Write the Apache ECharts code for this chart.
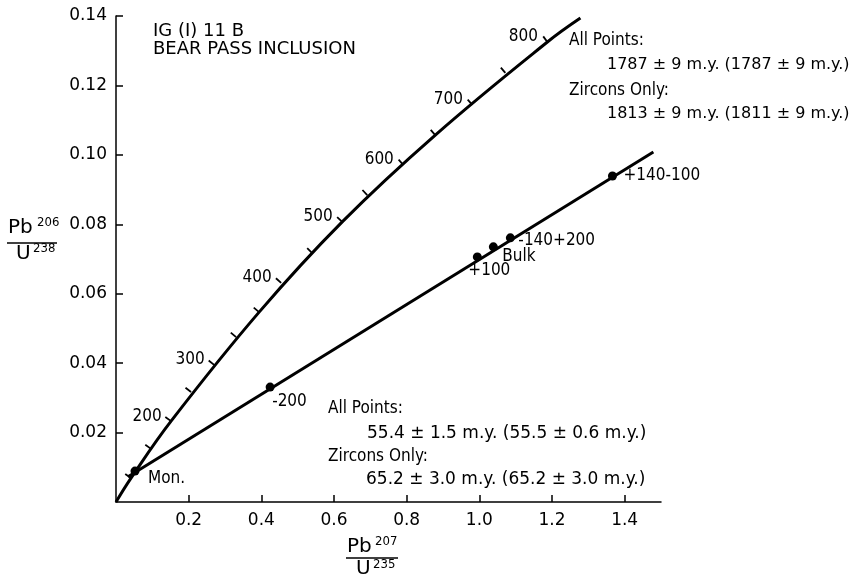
<!DOCTYPE html>
<html>
<head>
<meta charset="utf-8">
<script src="https://cdn.jsdelivr.net/npm/echarts@6/dist/echarts.min.js"></script>
<style>
html,body{margin:0;padding:0;background:#fff}
#chart{width:857px;height:583px}
</style>
</head>
<body>
<div id="chart"></div>
<script>
// concordia curve
const concordiaX = [0, 0.0413, 0.1515, 0.3939, 0.6226, 0.8788, 1.1873, 1.2782]
const concordiaY = [0, 0.0069, 0.0233, 0.0547, 0.0807, 0.1057, 0.1325, 0.1394]

// the 50 m.y. tick marks along the concordia
const tickX = [0.0413, 0.0964, 0.1515, 0.2066, 0.2700, 0.3306, 0.3939, 0.4545, 0.5399, 0.6226, 0.6915, 0.7906, 0.8788, 0.9807, 1.0716, 1.1873]
const tickY = [0.0069, 0.0153, 0.0233, 0.0317, 0.0395, 0.0475, 0.0547, 0.0631, 0.0717, 0.0807, 0.0884, 0.0971, 0.1057, 0.1144, 0.1236, 0.1325]
// age labels (m.y.) and the tick each one sits beside
const ageLabels = ['200', '300', '400', '500', '600', '700', '800']
const ageTickIndex = [2, 4, 7, 9, 11, 13, 15]

// discordia end points
const discordiaX = [0.033, 1.479]
const discordiaY = [0.0073, 0.1008]

// measured fractions
const sampleNames = ['Mon.', '-200', '+100', 'Bulk', '-140+200', '+140-100']
const sampleX = [0.0523, 0.4242, 0.9945, 1.0386, 1.0854, 1.3664]
const sampleY = [0.0089, 0.0331, 0.0706, 0.0735, 0.0761, 0.0939]

const xTicks = [0.2, 0.4, 0.6, 0.8, 1.0, 1.2, 1.4]
const yTicks = [0.02, 0.04, 0.06, 0.08, 0.10, 0.12, 0.14]

const FONT = "'DejaVu Sans', sans-serif"
const NARROW = "'DejaVu Sans Condensed', 'Liberation Sans Narrow', sans-serif"

// where each sample label sits relative to its dot (px)
const sampleLabelOffset = {
    'Mon.': [13, 7],
    '-200': [2, 14],
    '+100': [-9, 14],
    'Bulk': [9, 10],
    '-140+200': [8, 3],
    '+140-100': [11, 0]
}

const chart = echarts.init(document.getElementById('chart'))

function txt(x, y, text, size, family) {
    return {
        type: 'text', x: x, y: y,
        style: { text: text, font: size + 'px ' + (family || FONT), fill: '#000', textVerticalAlign: 'top' }
    }
}

const option = {
    animation: false,
    backgroundColor: '#fff',
    grid: { left: 116, top: 16, width: 545, height: 486 },
    xAxis: {
        type: 'value', min: 0, max: 1.5,
        axisLine: { lineStyle: { color: '#000', width: 1.5 } },
        axisTick: { inside: true, length: 7, customValues: xTicks, lineStyle: { color: '#000', width: 1.5 } },
        axisLabel: { customValues: xTicks, color: '#000', fontSize: 17, fontFamily: FONT, margin: 10,
            formatter: v => v.toFixed(1) },
        splitLine: { show: false }
    },
    yAxis: {
        type: 'value', min: 0, max: 0.14,
        axisLine: { lineStyle: { color: '#000', width: 1.5 } },
        axisTick: { inside: true, length: 7, customValues: yTicks, lineStyle: { color: '#000', width: 1.5 } },
        axisLabel: { customValues: yTicks, color: '#000', fontSize: 17, fontFamily: FONT, margin: 9,
            formatter: v => v.toFixed(2) },
        splitLine: { show: false }
    },
    series: [
        {
            name: 'concordia', type: 'line', smooth: 0.4, symbol: 'none',
            data: concordiaX.map((x, i) => [x, concordiaY[i]]),
            lineStyle: { color: '#000', width: 3 }
        },
        {
            name: 'concordia ticks', type: 'custom',
            data: tickX.map((x, i) => [x, tickY[i], i]),
            renderItem(params, api) {
                const i = api.value(2)
                const last = tickX.length - 1
                const p = api.coord([tickX[i], tickY[i]])
                const a = api.coord([tickX[Math.max(i - 1, 0)], tickY[Math.max(i - 1, 0)]])
                const b = api.coord([tickX[Math.min(i + 1, last)], tickY[Math.min(i + 1, last)]])
                let dx = b[0] - a[0], dy = b[1] - a[1]
                const len = Math.hypot(dx, dy)
                dx /= len; dy /= len
                // normal pointing to the upper-left side of the curve
                const nx = dy, ny = -dx
                const children = [{
                    type: 'line',
                    shape: { x1: p[0], y1: p[1], x2: p[0] + nx * 7, y2: p[1] + ny * 7 },
                    style: { stroke: '#000', lineWidth: 1.8 }
                }]
                const k = ageTickIndex.indexOf(i)
                if (k >= 0) {
                    children.push({
                        type: 'text', x: p[0] - 24, y: p[1] - 5,
                        style: { text: ageLabels[k], font: '17px ' + NARROW, fill: '#000',
                            textAlign: 'center', textVerticalAlign: 'middle' }
                    })
                }
                return { type: 'group', children: children }
            }
        },
        {
            name: 'discordia', type: 'line', symbol: 'none',
            data: discordiaX.map((x, i) => [x, discordiaY[i]]),
            lineStyle: { color: '#000', width: 3 }
        },
        {
            name: 'samples', type: 'scatter', symbol: 'circle', symbolSize: 9,
            itemStyle: { color: '#000', opacity: 1 },
            data: sampleX.map((x, i) => ({
                value: [x, sampleY[i]],
                name: sampleNames[i],
                label: {
                    show: true, position: 'inside', align: 'left', verticalAlign: 'middle',
                    offset: sampleLabelOffset[sampleNames[i]],
                    formatter: sampleNames[i], color: '#000', textBorderWidth: 0,
                    fontSize: 17, fontFamily: NARROW
                }
            })),
            z: 5
        }
    ],
    graphic: [
        txt(153, 22, 'IG (I) 11 B', 18),
        txt(153, 40, 'BEAR PASS INCLUSION', 18),

        txt(569, 32, 'All Points:', 17, NARROW),
        txt(607, 57, '1787 ± 9 m.y. (1787 ± 9 m.y.)', 16),
        txt(569, 82, 'Zircons Only:', 17, NARROW),
        txt(607, 106, '1813 ± 9 m.y. (1811 ± 9 m.y.)', 16),

        txt(328, 400, 'All Points:', 17, NARROW),
        txt(367, 425, '55.4 ± 1.5 m.y. (55.5 ± 0.6 m.y.)', 17),
        txt(328, 448, 'Zircons Only:', 17, NARROW),
        txt(366, 471, '65.2 ± 3.0 m.y. (65.2 ± 3.0 m.y.)', 17),

        // y axis name
        txt(8, 218, 'Pb', 20),
        txt(37, 216, '206', 13, NARROW),
        { type: 'line', shape: { x1: 7, y1: 243, x2: 57, y2: 243 }, style: { stroke: '#000', lineWidth: 1.5 } },
        txt(16, 244, 'U', 20),
        txt(33, 242, '238', 13, NARROW),

        // x axis name
        txt(347, 537, 'Pb', 20),
        txt(375, 535, '207', 13, NARROW),
        { type: 'line', shape: { x1: 346, y1: 558, x2: 398, y2: 558 }, style: { stroke: '#000', lineWidth: 1.5 } },
        txt(356, 559, 'U', 20),
        txt(373, 558, '235', 13, NARROW)
    ]
}

chart.setOption(option)
window.addEventListener('resize', () => chart.resize())
</script>
</body>
</html>
